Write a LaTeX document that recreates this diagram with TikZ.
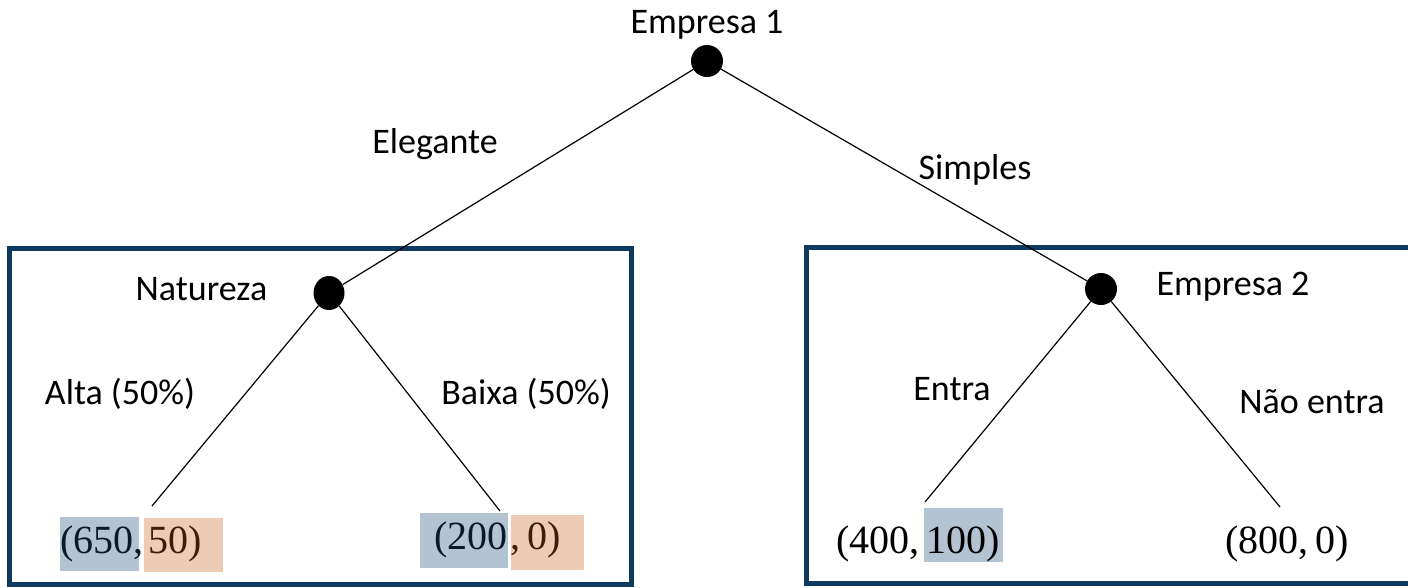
\documentclass[tikz,border=0pt]{standalone}
\usepackage{fontspec}
\usetikzlibrary{shapes.geometric}
\setsansfont{Carlito}
\newfontfamily\payfont{Liberation Serif}
\definecolor{frame}{HTML}{0E3A5F}
\definecolor{hiblue}{HTML}{B3C3D1}
\definecolor{hiorange}{HTML}{EDCBB5}
\definecolor{txtblue}{HTML}{0A1A2A}
\definecolor{txtbrown}{HTML}{3A1E08}
\tikzset{
  dot/.style={circle,fill=black,inner sep=0pt,minimum size=32pt},
  lbl/.style={font=\sffamily\fontsize{36}{40}\selectfont,inner sep=0pt,anchor=base},
  pay/.style={font=\payfont\fontsize{40}{44}\selectfont,inner sep=0pt,anchor=base west},
  edge/.style={line width=1.2pt},
  frm/.style={draw=frame,line width=5pt}
}
\begin{document}
\begin{tikzpicture}[x=1pt,y=-1pt]
\useasboundingbox (0,0) rectangle (1408,587);
\clip (0,0) rectangle (1408,587);
% frames
\draw[frm] (9.5,248) rectangle (631.5,584);
\draw[frm] (806.5,247) rectangle (1430,583);
% highlight boxes
\fill[hiblue] (60,517) rectangle (139,571);
\fill[hiorange] (144,518) rectangle (223,572);
\fill[hiblue] (420,513) rectangle (508,568);
\fill[hiorange] (511,515) rectangle (584,570);
\fill[hiblue] (924,508) rectangle (1003,562);
% decision nodes
\node[dot] (e1) at (707,61) {};
\node[ellipse,fill=black,inner sep=0pt,minimum width=31pt,minimum height=34pt] (nat) at (329,293) {};
\node[dot] (e2) at (1101,289) {};
% leaf ends
\coordinate (l1) at (152,506);
\coordinate (l2) at (500,511);
\coordinate (l3) at (925,502);
\coordinate (l4) at (1280,507);
% edges
\draw[edge] (e1) -- (nat);
\draw[edge] (e1) -- (e2);
\draw[edge] (nat) -- (l1);
\draw[edge] (nat) -- (l2);
\draw[edge] (e2) -- (l3);
\draw[edge] (e2) -- (l4);
% labels
\node[lbl] (t1) at (707,33) {Empresa 1};
\node[lbl] (t2) at (435,153) {Elegante};
\node[lbl] (t3) at (975,179) {Simples};
\node[lbl] (t4) at (201.5,300) {Natureza};
\node[lbl] (t5) at (1233,295) {Empresa 2};
\node[lbl] (t6) at (120,404) {Alta (50\%)};
\node[lbl] (t7) at (526,404) {Baixa (50\%)};
\node[lbl] (t8) at (952,400) {Entra};
\node[lbl] (t9) at (1312,413) {Não entra};
% payoffs
\node[pay] (p1) at (60,553) {\textcolor{txtblue}{(650,}\hspace{5pt}\textcolor{txtbrown}{50)}};
\node[pay] (p2) at (434,549) {\textcolor{txtblue}{(200}\hspace{3pt}\textcolor{txtbrown}{,\,0)}};
\node[pay] (p3) at (836,553) {(400,\,100)};
\node[pay] (p4) at (1225,553) {(800,\,0)};
\end{tikzpicture}
\end{document}
